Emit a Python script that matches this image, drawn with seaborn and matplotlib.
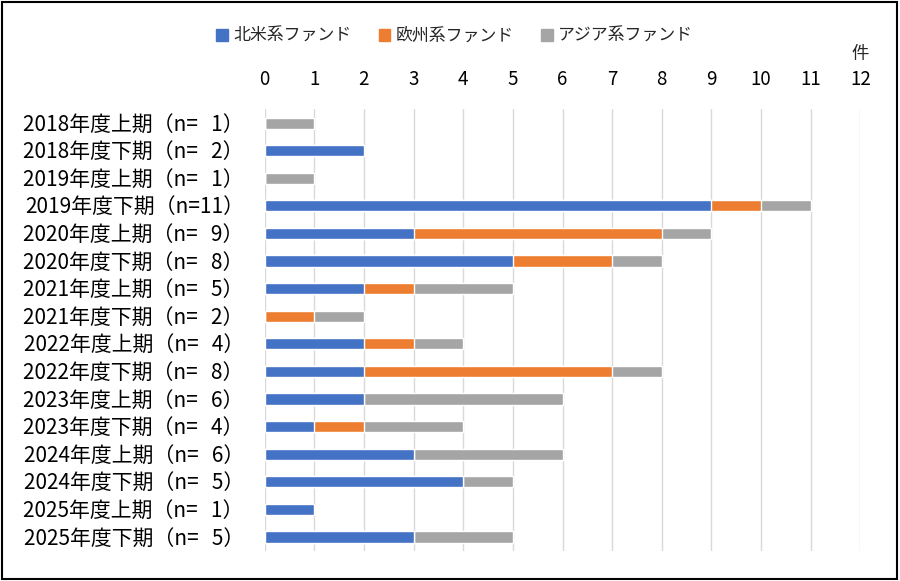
import numpy as np
import pandas as pd
import seaborn as sns
import matplotlib.pyplot as plt
from matplotlib.patches import Rectangle

periods = ['2018年度上期', '2018年度下期', '2019年度上期', '2019年度下期',
           '2020年度上期', '2020年度下期', '2021年度上期', '2021年度下期',
           '2022年度上期', '2022年度下期', '2023年度上期', '2023年度下期',
           '2024年度上期', '2024年度下期', '2025年度上期', '2025年度下期']
north_america = [0, 2, 0, 9, 3, 5, 2, 0, 2, 2, 2, 1, 3, 4, 1, 3]
europe = [0, 0, 0, 1, 5, 2, 1, 1, 1, 5, 0, 1, 0, 0, 0, 0]
asia = [1, 0, 1, 1, 1, 1, 2, 1, 1, 1, 4, 2, 3, 1, 0, 2]
series_names = ['北米系ファンド', '欧州系ファンド', 'アジア系ファンド']
colors = ['#4472C4', '#ED7D31', '#A5A5A5']
x_ticks = list(range(0, 13))

sns.set_theme(style='white')
plt.rcParams['font.family'] = ['Noto Sans CJK JP', 'DejaVu Sans']

totals = np.array(north_america) + np.array(europe) + np.array(asia)
# pad single digits with a figure space so the counts line up
labels = [f'{p}（n={n:>2}）'.replace('= ', '=\u2007') for p, n in zip(periods, totals)]

df = pd.DataFrame({'label': labels, 'na': north_america, 'eu': europe, 'asia': asia})
df['cum_na'] = df['na']
df['cum_eu'] = df['na'] + df['eu']
df['cum_asia'] = df['cum_eu'] + df['asia']

fig = plt.figure(figsize=(9, 5.81), dpi=100)
ax = fig.add_axes([0.294, 0.052, 0.662, 0.760])

# draw from longest layer to shortest so stacks show through
for col, color in zip(['cum_asia', 'cum_eu', 'cum_na'], colors[::-1]):
    sns.barplot(data=df, x=col, y='label', orient='h', color=color,
                width=0.4, saturation=1, ax=ax, order=labels)

ax.set_xlim(0, 12)
ax.set_xticks(x_ticks)
ax.xaxis.tick_top()
ax.tick_params(axis='x', length=0, labelsize=13.5, pad=14, colors='#000000')
ax.tick_params(axis='y', length=0, labelsize=15, pad=15, colors='#000000')
ax.grid(axis='x', color='#D9D9D9', linewidth=1)
ax.set_axisbelow(True)
ax.set_xlabel('')
ax.set_ylabel('')
for s in ax.spines.values():
    s.set_visible(False)

ax.text(12, 1.125, '件', transform=ax.get_xaxis_transform(), ha='center',
        va='center', fontsize=12.5)

handles = [Rectangle((0, 0), 1, 1, color=c) for c in colors]
fig.legend(handles, series_names, loc='center', bbox_to_anchor=(0.505, 0.938),
           ncol=3, frameon=False, fontsize=12.2, handlelength=0.7, handleheight=0.7,
           handletextpad=0.3, columnspacing=1.6)

fig.patches.append(Rectangle((0.002, 0.003), 0.995, 0.993, transform=fig.transFigure,
                             fill=False, edgecolor='black', linewidth=1.5))

fig.savefig('out.png', dpi=100)
